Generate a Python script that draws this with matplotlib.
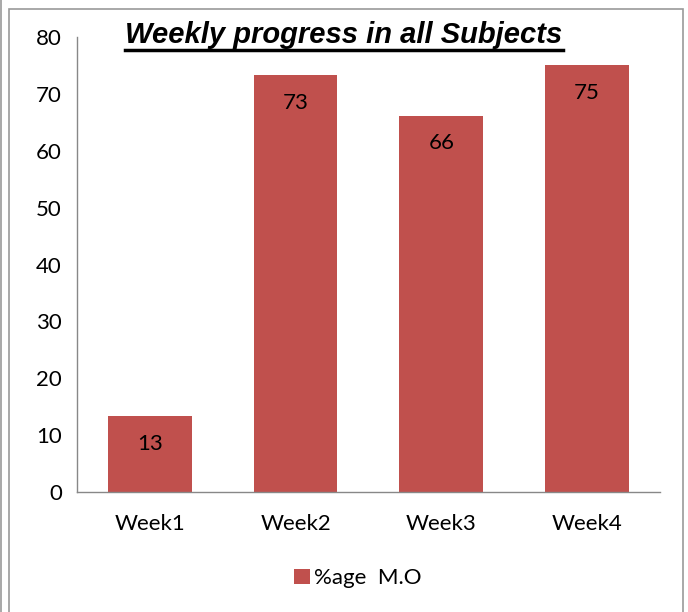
import matplotlib.pyplot as plt
from matplotlib.lines import Line2D
from matplotlib.patches import Rectangle

weeks = ['Week1', 'Week2', 'Week3', 'Week4']
values = [13.3, 73.3, 66.2, 75.0]
labels = ['13', '73', '66', '75']
series_name = '%age  M.O'

bar_color = '#C0504D'
font = 'Lato'
fs = 16

fig = plt.figure(figsize=(6.88, 6.12), dpi=100)
ax = fig.add_axes([0.112, 0.196, 0.847, 0.7435])

x = range(len(weeks))
bars = ax.bar(x, values, width=0.575, color=bar_color, label=series_name)
for b, lab in zip(bars, labels):
    ax.annotate(lab, (b.get_x() + b.get_width() / 2, b.get_height()),
                xytext=(0, -20), textcoords='offset points',
                ha='center', va='center', fontsize=fs, family=font)

ax.set_xlim(-0.5, 3.5)
ax.set_ylim(0, 80)
ax.set_yticks(range(0, 81, 10))
ax.set_xticks(list(x))
ax.set_xticklabels(weeks, family=font, fontsize=fs)
for t in ax.get_yticklabels():
    t.set_family(font)
    t.set_fontsize(fs)
ax.tick_params(length=0)
ax.tick_params(axis='y', pad=11)
ax.tick_params(axis='x', pad=16)
for s in ['top', 'right']:
    ax.spines[s].set_visible(False)
for s in ['left', 'bottom']:
    ax.spines[s].set_color('#888888')
    ax.spines[s].set_linewidth(1.0)

leg = fig.legend(handles=[bars], labels=[series_name], loc='center',
                 bbox_to_anchor=(0.52, 0.055), frameon=False,
                 handlelength=0.7, handleheight=0.7, handletextpad=0.2,
                 prop={'family': font, 'size': fs})

# title with underline
title = fig.text(0.5, 0.943, 'Weekly progress in all Subjects',
                 ha='center', va='center', fontsize=21,
                 fontweight='bold', fontstyle='italic', family='Liberation Sans')
fig.canvas.draw()
bb = title.get_window_extent().transformed(fig.transFigure.inverted())
fig.add_artist(Line2D([bb.x0, bb.x1], [bb.y0 - 0.002, bb.y0 - 0.002],
                      transform=fig.transFigure, color='black', linewidth=2.5))

# outer frame
fig.add_artist(Rectangle((0.0135, -0.01), 0.979, 0.995, transform=fig.transFigure,
                         fill=False, edgecolor='#999999', linewidth=1.2))
fig.add_artist(Line2D([0.002, 0.002], [0, 1], transform=fig.transFigure,
                      color='#999999', linewidth=1.2))

fig.savefig('out.png', dpi=100)
